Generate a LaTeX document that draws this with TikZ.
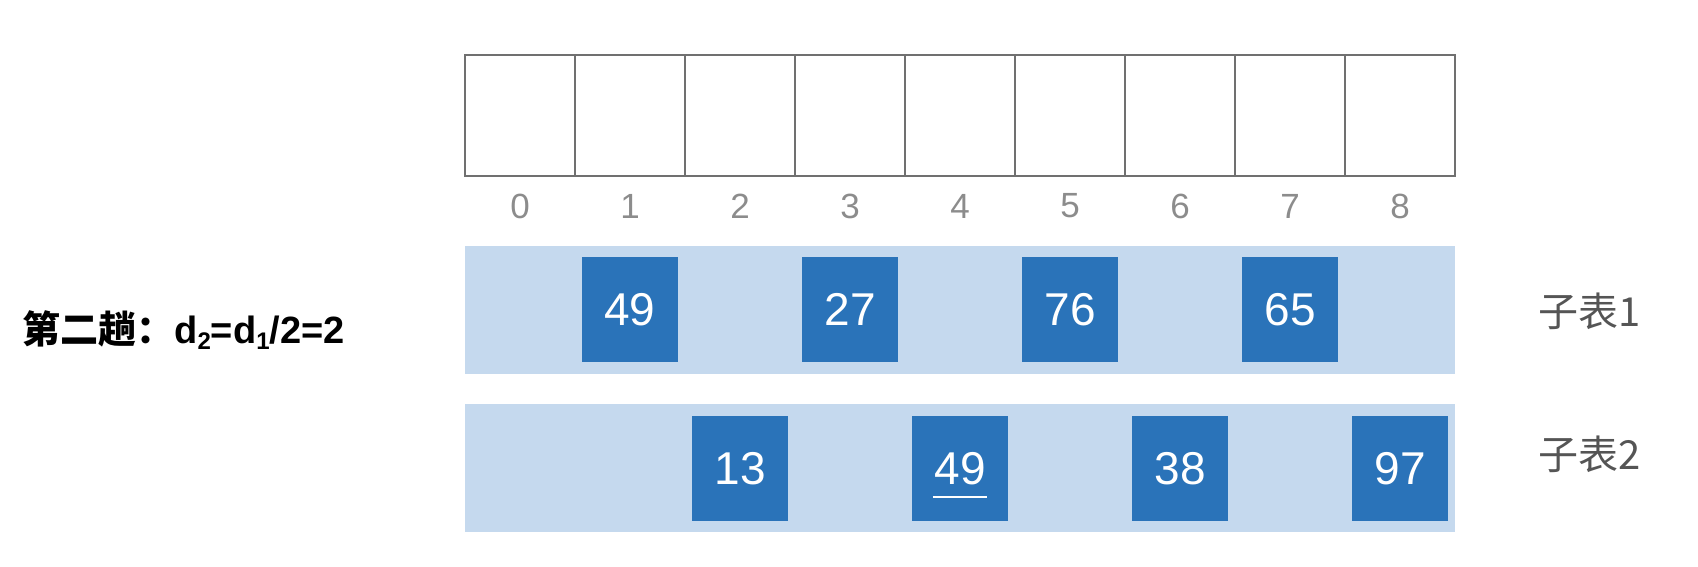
\documentclass[tikz,border=0pt]{standalone}
\usepackage{xcolor}
\usepackage{fontspec}
\usepackage{tikz}
\setmainfont{Liberation Sans}
\newfontfamily\cjk{Noto Sans CJK SC}
\definecolor{bandblue}{HTML}{C5D9EE}
\definecolor{boxblue}{HTML}{2A73B9}
\definecolor{linegray}{HTML}{707070}
\definecolor{idxgray}{HTML}{8C8C8C}
\definecolor{txtgray}{HTML}{555555}

\begin{document}
\begin{tikzpicture}[x=0.5pt, y=-0.5pt,
    cell/.style={rectangle, draw=linegray, line width=0.6pt, minimum width=55pt, minimum height=60.5pt, inner sep=0pt},
    idx/.style={text=idxgray, font=\fontsize{17.5}{20}\selectfont},
    band/.style={rectangle, fill=bandblue, minimum width=495pt, minimum height=64pt, inner sep=0pt},
    numbox/.style={rectangle, fill=boxblue, text=white, minimum width=48pt, minimum height=52.5pt, inner sep=0pt, font=\fontsize{23}{26}\selectfont},
    sub/.style={text=txtgray, font=\fontsize{20}{24}\selectfont}]
            \useasboundingbox (0,0) rectangle (1698,567);
            % Nodes
            \node[cell] (c0) at (520,115.5) {};
            \node[cell] (c1) at (630,115.5) {};
            \node[cell] (c2) at (740,115.5) {};
            \node[cell] (c3) at (850,115.5) {};
            \node[cell] (c4) at (960,115.5) {};
            \node[cell] (c5) at (1070,115.5) {};
            \node[cell] (c6) at (1180,115.5) {};
            \node[cell] (c7) at (1290,115.5) {};
            \node[cell] (c8) at (1400,115.5) {};

            \node[idx] (i0) at (520,206) {0};
            \node[idx] (i1) at (630,206) {1};
            \node[idx] (i2) at (740,206) {2};
            \node[idx] (i3) at (850,206) {3};
            \node[idx] (i4) at (960,206) {4};
            \node[idx] (i5) at (1070,206) {5};
            \node[idx] (i6) at (1180,206) {6};
            \node[idx] (i7) at (1290,206) {7};
            \node[idx] (i8) at (1400,206) {8};

            \node[band] (r1) at (960,310) {};
            \node[band] (r2) at (960,468) {};

            \node[numbox] (b11) at (630,309.5) {49};
            \node[numbox] (b12) at (850,309.5) {27};
            \node[numbox] (b13) at (1070,309.5) {76};
            \node[numbox] (b14) at (1290,309.5) {65};

            \node[numbox] (b21) at (740,468.5) {13};
            \node[numbox] (b22) at (960,468.5) {49};
            \node[numbox] (b23) at (1180,468.5) {38};
            \node[numbox] (b24) at (1400,468.5) {97};

            \node[sub] (s1) at (1590,311) {\cjk 子表1};
            \node[sub] (s2) at (1590,454) {\cjk 子表2};

            \node[anchor=west, inner sep=0pt, font=\fontsize{19}{22}\selectfont\bfseries] (pass) at (22,330)
                {{\cjk 第二趟：}d\raisebox{-0.3ex}{\fontsize{12}{12}\selectfont 2}=d\raisebox{-0.3ex}{\fontsize{12}{12}\selectfont 1}/2=2};

            % Underline
            \draw[white, line width=1pt] ([xshift=-13.6pt, yshift=-14.1pt]b22.center) -- ([xshift=13.6pt, yshift=-14.1pt]b22.center);
        \end{tikzpicture}
\end{document}
